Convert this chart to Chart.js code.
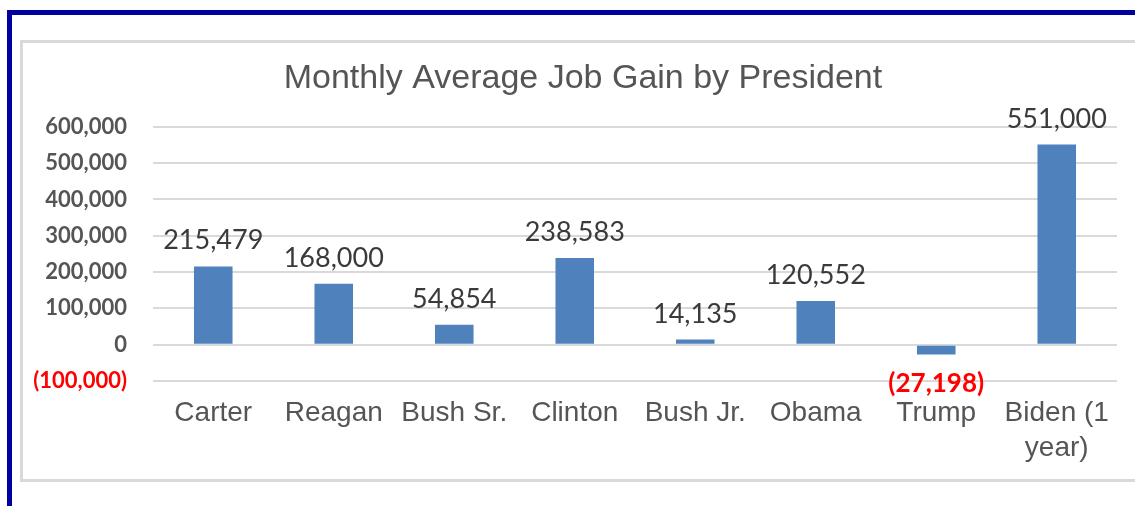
<!DOCTYPE html>
<html>
<head>
<meta charset="utf-8">
<script src="https://cdn.jsdelivr.net/npm/chart.js@4"></script>
<style>
    html, body { margin: 0; padding: 0; background: #fff; }
    body { width: 1135px; height: 506px; position: relative; overflow: hidden; }
    #frame { position: absolute; left: 7px; top: 10px; width: 1140px; height: 520px; border-top: 5px solid #0000A0; border-left: 5px solid #0000A0; }
    #box { position: absolute; left: 20px; top: 40px; width: 1130px; height: 436px; border: 3px solid #D9D9D9; }
    #wrap { position: absolute; left: 0; top: 0; width: 1135px; height: 506px; }
</style>
</head>
<body>
<div id="frame"></div>
<div id="box"></div>
<div id="wrap"><canvas id="chart"></canvas></div>
<script>
const presidents = ['Carter', 'Reagan', 'Bush Sr.', 'Clinton', 'Bush Jr.', 'Obama', 'Trump', ['Biden (1', 'year)']];
const jobGain = [215479, 168000, 54854, 238583, 14135, 120552, -27198, 551000];
const yTicks = [-100000, 0, 100000, 200000, 300000, 400000, 500000, 600000];

function fmt(v) {
    const s = Math.abs(v).toLocaleString('en-US');
    return v < 0 ? '(' + s + ')' : s;
}

// draws the value above (or below, for negatives) each bar
const valueLabels = {
    id: 'valueLabels',
    afterDatasetsDraw(chart) {
        const ctx = chart.ctx;
        const meta = chart.getDatasetMeta(0);
        ctx.save();
        ctx.textAlign = 'center';
        ctx.textBaseline = 'alphabetic';
        meta.data.forEach((bar, i) => {
            const v = jobGain[i];
            if (v < 0) {
                ctx.font = 'bold 26px Lato';
                ctx.fillStyle = '#FF0000';
                ctx.fillText(fmt(v), bar.x, bar.y + 37);
            } else {
                ctx.font = '27px Lato';
                ctx.fillStyle = '#3A3A3A';
                ctx.fillText(fmt(v), bar.x, bar.y - 17);
            }
        });
        ctx.restore();
    }
};

new Chart(document.getElementById('chart'), {
    type: 'bar',
    data: {
        labels: presidents,
        datasets: [{
            data: jobGain,
            backgroundColor: '#4F81BD',
            borderWidth: 0,
            barPercentage: 0.32,
            categoryPercentage: 1
        }]
    },
    options: {
        responsive: true,
        maintainAspectRatio: false,
        animation: false,
        layout: { padding: { left: 30, right: 18, top: 0, bottom: 25 } },
        plugins: {
            legend: { display: false },
            tooltip: { enabled: false },
            title: {
                display: true,
                // two leading spaces nudge the centred title right, as in the original
                text: '  Monthly Average Job Gain by President',
                color: '#555555',
                font: { family: 'Liberation Sans', size: 34, weight: 'normal' },
                padding: { top: 58, bottom: 28 }
            }
        },
        scales: {
            x: {
                grid: { display: false, drawTicks: false },
                border: { display: false },
                ticks: {
                    color: '#555555',
                    font: { family: 'Liberation Sans', size: 28, lineHeight: 1.25 },
                    padding: 15,
                    maxRotation: 0,
                    autoSkip: false
                }
            },
            y: {
                min: -100000,
                max: 600000,
                afterFit: s => { s.width = 123; },
                afterBuildTicks: s => { s.ticks = yTicks.map(v => ({ value: v })); },
                grid: { color: '#D9D9D9', lineWidth: 2, drawTicks: false },
                border: { display: false },
                ticks: {
                    padding: 26,
                    font: { family: 'Lato', size: 22, weight: 'bold' },
                    color: ctx => ctx.tick.value < 0 ? '#FF0000' : '#555555',
                    callback: v => fmt(v)
                }
            }
        }
    },
    plugins: [valueLabels]
});
</script>
</body>
</html>
